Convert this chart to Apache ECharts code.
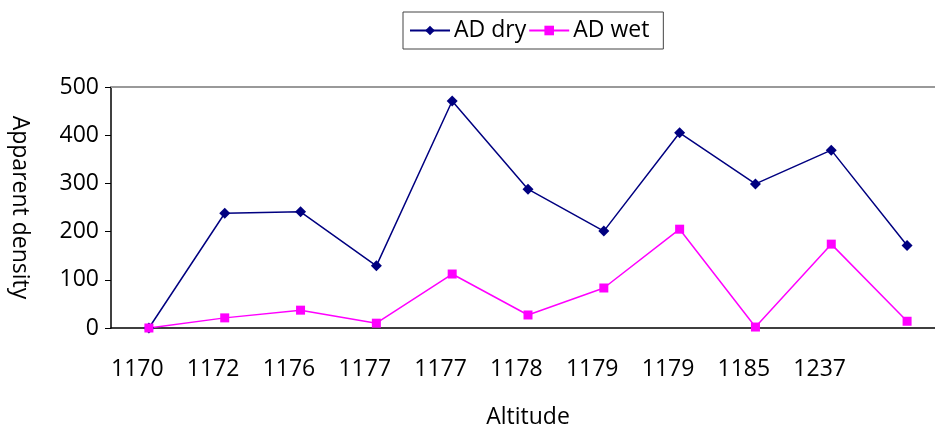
<!DOCTYPE html>
<html>
<head>
<meta charset="utf-8">
<script src="https://cdn.jsdelivr.net/npm/echarts@6/dist/echarts.min.js"></script>
<style>
  html, body { margin: 0; padding: 0; background: #fff; }
  #chart { width: 935px; height: 428px; }
</style>
</head>
<body>
<div id="chart"></div>
<script>
var categories = ["1170", "1172", "1176", "1177", "1177", "1178", "1179", "1179", "1185", "1237", ""];
var adDry = [0, 238, 241, 129, 471, 288, 201, 405, 299, 369, 171];
var adWet = [0, 21, 37, 10, 112, 27, 83, 205, 2, 174, 14];
var yTicks = [0, 100, 200, 300, 400, 500];

// labels sit at the left edge of each band, like the original
var tickLabels = categories.concat([""]);

var font = "Open Sans";
var fs = 23;

var myChart = echarts.init(document.getElementById("chart"));
var option = {
  animation: false,
  textStyle: { fontFamily: font },
  legend: {
    top: 12,
    left: 403,
    itemGap: 2,
    itemWidth: 40,
    itemHeight: 12,
    padding: [7, 14, 7, 6],
    borderColor: "#444",
    borderWidth: 1,
    textStyle: { fontSize: fs, color: "#000", fontFamily: font, padding: [0, 0, 0, -1] },
    data: ["AD dry", "AD wet"],
  },
  grid: { left: 111, top: 87, width: 834, height: 241, outerBoundsMode: "none", containLabel: false },
  xAxis: [
    {
      type: "category",
      data: categories,
      boundaryGap: true,
      axisLine: { lineStyle: { color: "#000", width: 1.5 } },
      axisTick: { length: 6, lineStyle: { color: "#000" } },
      axisLabel: { show: false },
      splitLine: { show: false },
    },
    {
      type: "category",
      data: tickLabels,
      boundaryGap: false,
      position: "bottom",
      axisLine: { show: false },
      axisTick: { show: false },
      axisLabel: {
        align: "left",
        margin: 30,
        fontSize: fs,
        color: "#000",
        fontFamily: font,
        interval: 0,
      },
      name: "Altitude",
      nameLocation: "middle",
      nameGap: 78,
      nameTextStyle: { fontSize: fs, color: "#000", fontFamily: font },
    },
    {
      type: "category",
      data: categories,
      position: "top",
      axisLine: { lineStyle: { color: "#999", width: 2 } },
      axisTick: { show: false },
      axisLabel: { show: false },
    },
  ],
  yAxis: {
    type: "value",
    min: yTicks[0],
    max: yTicks[yTicks.length - 1],
    interval: 100,
    axisLine: { show: true, lineStyle: { color: "#000", width: 1.5 } },
    axisTick: { show: true, length: 6, lineStyle: { color: "#000" } },
    axisLabel: { fontSize: fs, color: "#000", margin: 12, fontFamily: font, padding: [6, 0, 0, 0] },
    splitLine: { show: false },
    name: "Apparent density",
    nameLocation: "middle",
    nameRotate: -90,
    nameGap: 80,
    nameTextStyle: { fontSize: fs, color: "#000", fontFamily: font, padding: [0, 0, 16, 0] },
  },
  series: [
    {
      name: "AD dry",
      type: "line",
      data: adDry,
      symbol: "diamond",
      symbolSize: 11,
      lineStyle: { color: "#000080", width: 1.5 },
      itemStyle: { color: "#000080" },
    },
    {
      name: "AD wet",
      type: "line",
      data: adWet,
      symbol: "rect",
      symbolSize: 9,
      lineStyle: { color: "#ff00ff", width: 1.5 },
      itemStyle: { color: "#ff00ff" },
    },
  ],
};
myChart.setOption(option);
</script>
</body>
</html>
